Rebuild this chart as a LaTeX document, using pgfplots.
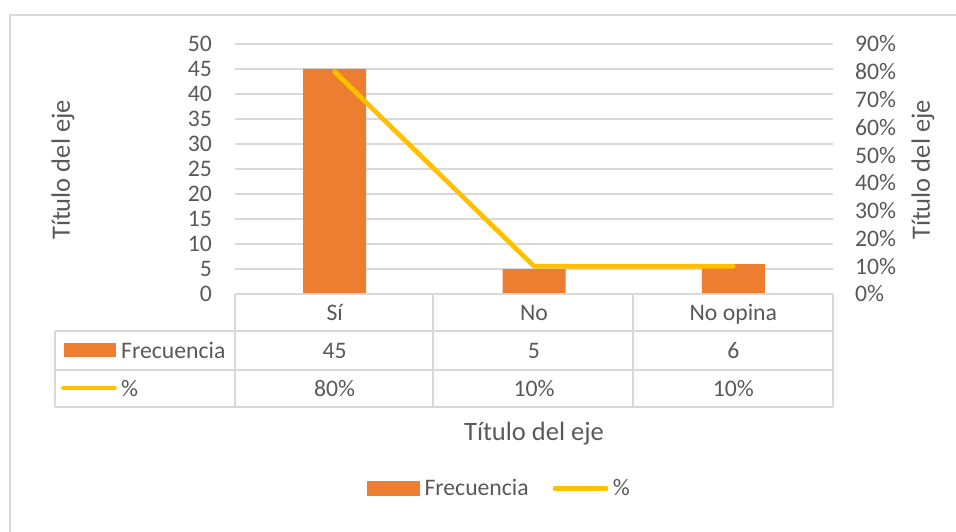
\documentclass[border=0pt]{standalone}
\usepackage{pgfplots}
\pgfplotsset{compat=1.18}
\usepackage{fontspec}
\setmainfont{Carlito}
\definecolor{barorange}{HTML}{ED7D31}
\definecolor{lineyellow}{HTML}{FFC000}
\definecolor{txtgray}{HTML}{595959}
\definecolor{gridgray}{HTML}{D9D9D9}
\newcommand{\tfont}{\fontsize{23.7}{28}\selectfont}
\newcommand{\lfont}{\fontsize{26.5}{31}\selectfont}
\begin{document}
\begin{tikzpicture}
\useasboundingbox (0,0) rectangle (956pt,531pt);
\draw[gridgray, line width=1.3pt] (10pt,-5pt) -- (10pt,516pt) -- (965pt,516pt);
\begin{axis}[
  at={(235pt,237pt)}, anchor=south west, scale only axis,
  width=598pt, height=250pt,
  xmin=-0.5, xmax=2.5, ymin=0, ymax=50,
  ytick={0,5,...,50}, xtick={0,1,2}, xticklabels={Sí,No,No opina},
  axis line style={draw=none}, major tick length=0pt,
  ymajorgrids, grid style={gridgray, line width=1.2pt},
  tick label style={font=\tfont, text=txtgray},
  /pgf/number format/assume math mode=true,
  yticklabel style={anchor=east, inner sep=0pt, xshift=-23pt},
  xticklabel style={anchor=base, inner sep=0pt, yshift=-26pt},
  ylabel={Título del eje},
  ylabel style={at={(rel axis cs:-0.2876,0.496)}, anchor=center, font=\lfont, text=txtgray},
  xlabel={Título del eje},
  xlabel style={at={(rel axis cs:0.5,-0.584)}, anchor=base, font=\lfont, text=txtgray},
  clip=false,
]
\addplot[ybar, bar width=63pt, fill=barorange, draw=none] coordinates {(0,45) (1,5) (2,6)};
% data table values
\node[anchor=base, font=\tfont, text=txtgray] at (axis cs:0,-12.8) {45};
\node[anchor=base, font=\tfont, text=txtgray] at (axis cs:1,-12.8) {5};
\node[anchor=base, font=\tfont, text=txtgray] at (axis cs:2,-12.8) {6};
\node[anchor=base, font=\tfont, text=txtgray] at (axis cs:0,-20.4) {80\%};
\node[anchor=base, font=\tfont, text=txtgray] at (axis cs:1,-20.4) {10\%};
\node[anchor=base, font=\tfont, text=txtgray] at (axis cs:2,-20.4) {10\%};
\end{axis}
\begin{axis}[
  at={(235pt,237pt)}, anchor=south west, scale only axis,
  width=598pt, height=250pt,
  xmin=-0.5, xmax=2.5, ymin=0, ymax=90,
  axis y line*=right, hide x axis,
  axis line style={draw=none}, major tick length=0pt,
  ytick={0,10,...,90},
  /pgf/number format/assume math mode=true,
  yticklabel={\pgfmathprintnumber{\tick}\%},
  yticklabel style={anchor=west, inner sep=0pt, xshift=22pt, font=\tfont, text=txtgray},
  ylabel={Título del eje},
  ylabel style={at={(rel axis cs:1.1505,0.496)}, anchor=center, font=\lfont, text=txtgray},
  clip=false,
  legend columns=2,
  legend style={at={(0.2207,-0.808)}, anchor=south west, draw=none, fill=none,
    inner sep=0pt, font=\tfont, text=txtgray,
    nodes={inner sep=0pt, text height=17pt, text depth=0pt},
    /tikz/every even column/.append style={column sep=24pt}},
]
\addlegendimage{legend image code/.code={\fill[barorange] (0pt,-8.5pt) rectangle (52pt,5.5pt); \path (57pt,0pt);}}
\addlegendentry{Frecuencia}
\addplot[lineyellow, line width=4.75pt, line cap=round, line join=round,
  legend image code/.code={\draw[lineyellow, line width=4.75pt, line cap=round] (2.5pt,-1.5pt) -- (53.5pt,-1.5pt); \path (58pt,0pt);}]
  coordinates {(0,80) (1,10) (2,10)};
\addlegendentry{\%}
\end{axis}
% data table grid
\begin{scope}[gridgray, line width=1.5pt]
\draw (235pt,237pt) -- (833pt,237pt);
\draw (55pt,200pt) -- (833pt,200pt);
\draw (55pt,161pt) -- (833pt,161pt);
\draw (55pt,124pt) -- (833pt,124pt);
\draw (55pt,200pt) -- (55pt,124pt);
\draw (235pt,237pt) -- (235pt,124pt);
\draw (433pt,237pt) -- (433pt,124pt);
\draw (633pt,237pt) -- (633pt,124pt);
\draw (833pt,237pt) -- (833pt,124pt);
\end{scope}
% table legend keys
\fill[barorange] (64pt,174pt) rectangle (116pt,188pt);
\draw[lineyellow, line width=4.75pt, line cap=round] (63.5pt,143pt) -- (114.5pt,143pt);
\node[anchor=base west, inner sep=0pt, font=\tfont, text=txtgray] at (121pt,173pt) {Frecuencia};
\node[anchor=base west, inner sep=0pt, font=\tfont, text=txtgray] at (121pt,135pt) {\%};
\end{tikzpicture}
\end{document}
